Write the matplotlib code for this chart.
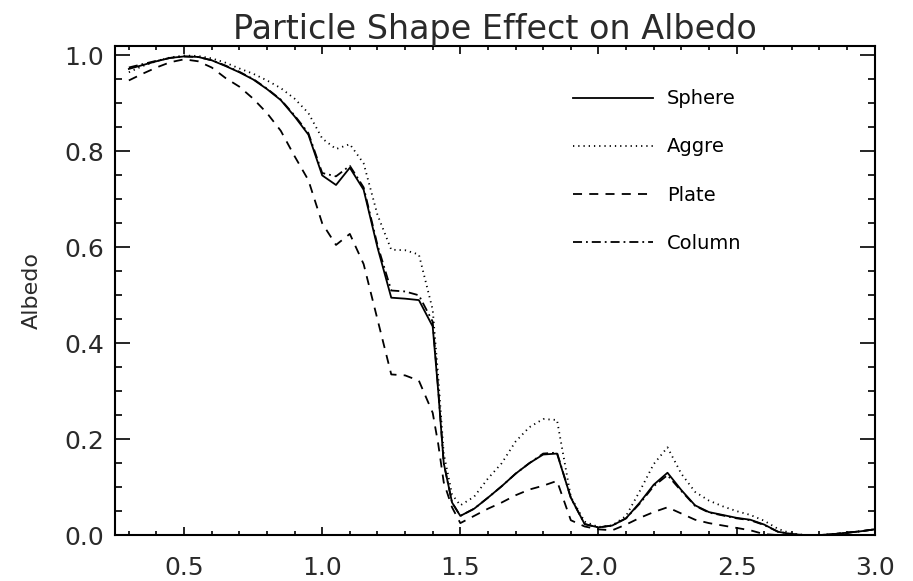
import numpy as np
import matplotlib
matplotlib.use("Agg")
import matplotlib.pyplot as plt
from matplotlib.ticker import MultipleLocator, FormatStrFormatter

# wavelength grid (um) and albedo for each particle shape
wavelength = [0.30, 0.35, 0.40, 0.45, 0.50, 0.55, 0.60, 0.65, 0.70, 0.75,
              0.80, 0.85, 0.90, 0.95, 1.00, 1.05, 1.10, 1.15, 1.20, 1.25,
              1.30, 1.35, 1.40, 1.42, 1.44, 1.47, 1.50, 1.55, 1.60, 1.65,
              1.70, 1.75, 1.80, 1.85, 1.90, 1.95, 2.00, 2.05, 2.10, 2.15,
              2.20, 2.25, 2.30, 2.35, 2.40, 2.45, 2.50, 2.55, 2.60, 2.65,
              2.70, 2.75, 2.80, 2.85, 2.90, 2.95, 3.00]

sphere = [0.972, 0.980, 0.988, 0.995, 0.998, 0.997, 0.990, 0.978, 0.965, 0.950,
          0.930, 0.907, 0.873, 0.835, 0.750, 0.730, 0.766, 0.720, 0.600, 0.495,
          0.493, 0.490, 0.435, 0.300, 0.150, 0.068, 0.040, 0.055, 0.078, 0.102,
          0.128, 0.150, 0.168, 0.170, 0.078, 0.023, 0.016, 0.020, 0.035, 0.068,
          0.105, 0.130, 0.094, 0.062, 0.048, 0.042, 0.036, 0.032, 0.022, 0.007,
          0.002, 0.000, 0.000, 0.002, 0.005, 0.008, 0.012]

aggre = [0.965, 0.978, 0.988, 0.996, 1.000, 0.999, 0.994, 0.985, 0.973, 0.962,
         0.948, 0.932, 0.910, 0.880, 0.827, 0.805, 0.815, 0.775, 0.668, 0.595,
         0.594, 0.585, 0.470, 0.330, 0.170, 0.085, 0.062, 0.080, 0.118, 0.150,
         0.195, 0.225, 0.242, 0.240, 0.080, 0.028, 0.017, 0.020, 0.040, 0.092,
         0.148, 0.183, 0.128, 0.090, 0.072, 0.060, 0.050, 0.042, 0.030, 0.013,
         0.003, 0.000, 0.000, 0.002, 0.005, 0.008, 0.012]

plate = [0.948, 0.962, 0.975, 0.986, 0.992, 0.988, 0.975, 0.953, 0.935, 0.910,
         0.880, 0.843, 0.790, 0.740, 0.650, 0.605, 0.628, 0.565, 0.450, 0.335,
         0.333, 0.322, 0.255, 0.190, 0.110, 0.058, 0.025, 0.040, 0.055, 0.068,
         0.083, 0.095, 0.103, 0.113, 0.031, 0.018, 0.012, 0.010, 0.022, 0.036,
         0.048, 0.058, 0.045, 0.032, 0.025, 0.020, 0.015, 0.010, 0.002, 0.000,
         0.000, 0.000, 0.000, 0.002, 0.005, 0.008, 0.012]

column = [0.975, 0.982, 0.989, 0.995, 0.998, 0.997, 0.990, 0.979, 0.966, 0.951,
          0.931, 0.908, 0.875, 0.838, 0.755, 0.748, 0.770, 0.725, 0.605, 0.510,
          0.508, 0.500, 0.445, 0.305, 0.150, 0.068, 0.040, 0.055, 0.078, 0.102,
          0.128, 0.150, 0.170, 0.172, 0.078, 0.023, 0.016, 0.020, 0.035, 0.066,
          0.102, 0.125, 0.092, 0.061, 0.047, 0.041, 0.035, 0.031, 0.021, 0.007,
          0.002, 0.000, 0.000, 0.002, 0.005, 0.008, 0.012]

labels = ["Sphere", "Aggre", "Plate", "Column"]

fig = plt.figure(figsize=(9.13, 5.81), dpi=100)
ax = fig.add_axes([0.126, 0.079, 0.832, 0.842])

lw = 1.3
ax.plot(wavelength, sphere, color="black", lw=lw, linestyle="-", label=labels[0])
ax.plot(wavelength, aggre, color="black", lw=lw, linestyle=(0, (0.7, 2.2)), label=labels[1])
ax.plot(wavelength, plate, color="black", lw=lw, linestyle=(0, (5, 4)), label=labels[2])
ax.plot(wavelength, column, color="black", lw=lw, linestyle=(0, (5, 2.2, 1, 2.2)), label=labels[3])

ax.set_xlim(0.25, 3.0)
ax.set_ylim(0.0, 1.02)

ax.xaxis.set_major_locator(MultipleLocator(0.5))
ax.xaxis.set_minor_locator(MultipleLocator(0.1))
ax.yaxis.set_major_locator(MultipleLocator(0.2))
ax.yaxis.set_minor_locator(MultipleLocator(0.05))
ax.xaxis.set_major_formatter(FormatStrFormatter("%.1f"))
ax.yaxis.set_major_formatter(FormatStrFormatter("%.1f"))

ax.tick_params(axis="both", which="both", direction="in", top=True, right=True,
               width=1.2, colors="black", labelcolor="#2a2a2a", labelsize=18)
ax.tick_params(axis="x", which="major", length=6, pad=15)
ax.tick_params(axis="x", which="minor", length=3)
ax.tick_params(axis="y", which="major", length=11, pad=8)
ax.tick_params(axis="y", which="minor", length=5)
for sp in ax.spines.values():
    sp.set_linewidth(1.5)

ax.set_title("Particle Shape Effect on Albedo", fontsize=24, color="#2a2a2a", pad=5)
ax.set_ylabel("Albedo", fontsize=16, color="#2a2a2a", labelpad=16)

ax.legend(loc="upper left", bbox_to_anchor=(0.58, 0.947), frameon=False,
          fontsize=14, handlelength=4.1, handletextpad=0.72, labelspacing=1.5)

fig.savefig("out.png", dpi=100)
